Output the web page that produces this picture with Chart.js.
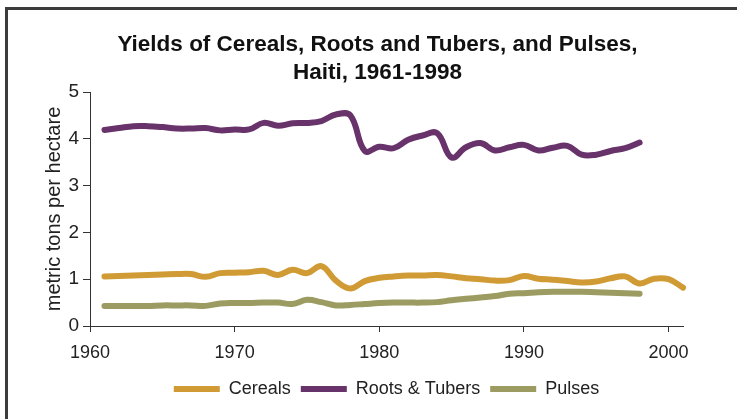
<!DOCTYPE html>
<html>
<head>
<meta charset="utf-8">
<title>Yields of Cereals, Roots and Tubers, and Pulses, Haiti</title>
<script src="https://cdn.jsdelivr.net/npm/chart.js@4/dist/chart.umd.min.js"></script>
<style>
    html, body { margin: 0; padding: 0; background: #fff; overflow: hidden; width: 737px; height: 419px; }
    #chart { position: absolute; left: 0; top: 0; }
</style>
</head>
<body>
<canvas id="chart" width="737" height="419"></canvas>
<script>
var years = [1961, 1962, 1963, 1964, 1965, 1966, 1967, 1968, 1969, 1970,
             1971, 1972, 1973, 1974, 1975, 1976, 1977, 1978, 1979, 1980,
             1981, 1982, 1983, 1984, 1985, 1986, 1987, 1988, 1989, 1990,
             1991, 1992, 1993, 1994, 1995, 1996, 1997, 1998, 1999, 2000, 2001];

// metric tons per hectare
var cereals = [1.06, 1.07, 1.08, 1.09, 1.10, 1.11, 1.11, 1.05, 1.13, 1.14,
               1.15, 1.18, 1.09, 1.20, 1.13, 1.28, 0.97, 0.80, 0.96, 1.03,
               1.06, 1.08, 1.08, 1.09, 1.06, 1.02, 1.00, 0.97, 0.98, 1.07,
               1.01, 0.99, 0.96, 0.93, 0.95, 1.02, 1.06, 0.91, 1.01, 1.00, 0.82];
var rootsTubers = [4.19, 4.23, 4.27, 4.27, 4.25, 4.22, 4.22, 4.23, 4.18, 4.20,
                   4.20, 4.34, 4.28, 4.33, 4.34, 4.38, 4.52, 4.50, 3.74, 3.83,
                   3.80, 3.98, 4.07, 4.12, 3.60, 3.82, 3.91, 3.75, 3.82, 3.87,
                   3.75, 3.81, 3.85, 3.66, 3.66, 3.74, 3.80, 3.92];
var pulses = [0.43, 0.43, 0.43, 0.43, 0.44, 0.44, 0.44, 0.43, 0.48, 0.49,
              0.49, 0.50, 0.50, 0.47, 0.56, 0.51, 0.44, 0.45, 0.47, 0.49,
              0.50, 0.50, 0.50, 0.51, 0.55, 0.58, 0.61, 0.64, 0.69, 0.70,
              0.72, 0.73, 0.73, 0.73, 0.72, 0.71, 0.70, 0.69];

var seriesNames = ['Cereals', 'Roots & Tubers', 'Pulses'];
var seriesColors = ['#d09b34', '#68326a', '#9b9b62'];
var yTicks = [0, 1, 2, 3, 4, 5];
var xTicks = [1960, 1970, 1980, 1990, 2000];

var fontFamily = '"Liberation Sans", Arial, sans-serif';
var axisColor = '#333';

function lineDataset(i, values) {
    return {
        label: seriesNames[i],
        data: values,
        borderColor: seriesColors[i],
        backgroundColor: seriesColors[i],
        borderWidth: 6,
        borderCapStyle: 'round',
        borderJoinStyle: 'round',
        tension: 0.4,
        pointRadius: 0,
        clip: 8,
        fill: false
    };
}

// frame round the chart (only top and left edges show in the window)
// and a small nudge of the title to the left
var framePlugin = {
    id: 'frame',
    afterLayout: function (chart) {
        var t = chart.titleBlock;
        if (t) { t.left -= 9; t.right -= 9; }
    },
    beforeDraw: function (chart) {
        var c = chart.ctx;
        c.save();
        c.strokeStyle = '#3c3c3c';
        c.lineWidth = 3;
        c.beginPath();
        c.moveTo(6.5, chart.height + 5);
        c.lineTo(6.5, 8.5);
        c.lineTo(chart.width + 5, 8.5);
        c.stroke();
        c.restore();
    }
};

var ctx = document.getElementById('chart').getContext('2d');
new Chart(ctx, {
    type: 'line',
    data: {
        labels: years,
        datasets: [
            lineDataset(0, cereals),
            lineDataset(1, rootsTubers),
            lineDataset(2, pulses)
        ]
    },
    plugins: [framePlugin],
    options: {
        responsive: false,
        animation: false,
        layout: { padding: { left: 20, right: 54, top: 31, bottom: 11 } },
        plugins: {
            title: {
                display: true,
                fullSize: false,
                text: ['Yields of Cereals, Roots and Tubers, and Pulses,', 'Haiti, 1961-1998'],
                color: '#111',
                font: { family: fontFamily, size: 22.5, weight: 'bold', lineHeight: '28px' },
                padding: { top: 0, bottom: 5 }
            },
            legend: {
                position: 'bottom',
                fullSize: false,
                labels: {
                    color: '#222',
                    font: { family: fontFamily, size: 18 },
                    boxWidth: 46,
                    boxHeight: 6,
                    padding: 10,
                    generateLabels: function (chart) {
                        return Chart.defaults.plugins.legend.labels.generateLabels(chart).map(function (item) {
                            item.lineWidth = 0;
                            return item;
                        });
                    }
                }
            },
            tooltip: { enabled: false }
        },
        scales: {
            x: {
                type: 'linear',
                min: 1960,
                max: 2001,
                afterFit: function (scale) { scale.height = 44; },
                afterBuildTicks: function (scale) {
                    scale.ticks = xTicks.map(function (v) { return { value: v }; });
                },
                ticks: {
                    color: '#222',
                    font: { family: fontFamily, size: 18 },
                    padding: 10,
                    maxRotation: 0,
                    callback: function (v) { return String(v); }
                },
                grid: { drawOnChartArea: false, tickLength: 6, color: axisColor },
                border: { color: axisColor, width: 1 }
            },
            y: {
                min: 0,
                max: 5,
                afterFit: function (scale) { scale.width = 70; },
                afterBuildTicks: function (scale) {
                    scale.ticks = yTicks.map(function (v) { return { value: v }; });
                },
                ticks: {
                    color: '#222',
                    font: { family: fontFamily, size: 19 },
                    padding: 4
                },
                title: {
                    display: true,
                    text: 'metric tons per hectare',
                    color: '#222',
                    font: { family: fontFamily, size: 20 },
                    padding: { top: 22, bottom: 0 }
                },
                grid: { drawOnChartArea: false, tickLength: 7, color: axisColor },
                border: { color: axisColor, width: 1 }
            }
        }
    }
});
</script>
</body>
</html>
